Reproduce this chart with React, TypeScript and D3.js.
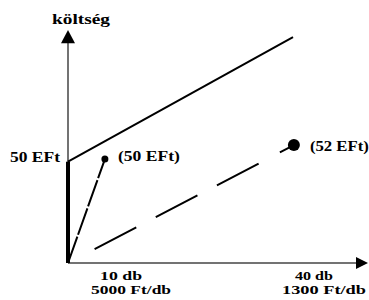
import React from 'react';
import * as d3 from 'd3';

// cost axis values (EFt, schematic) and quantity positions (schematic units)
const fixedCost = 50;
const totalCostLine = [[0, 50], [75, 111.5]];
const lineA = [[0, 0], [12.3, 51.3]];
const lineB = [[0, 0], [75.3, 58.2]];
const pointLabels = ['(50 EFt)', '(52 EFt)'];
const tickPos = [17.7, 82];
const tickQty = ['10 db', '40 db'];
const tickUnit = ['5000 Ft/db', '1300 Ft/db'];
const yTickLabel = '50 EFt';
const yTitle = 'költség';

const W = 369;
const H = 300;
const font = 'Liberation Serif';

const App: React.FC = () => {
  const x = d3.scaleLinear().domain([0, 100]).range([68, 368]);
  const y = d3.scaleLinear().domain([0, 116]).range([263, 28]);
  const line = d3.line<number[]>().x(d => x(d[0])).y(d => y(d[1]));

  const pA = lineA[1];
  const pB = lineB[1];

  const txt = { fontFamily: font, fontWeight: 700 } as React.CSSProperties;

  return (
    <svg width={W} height={H}
      style={{ position: 'absolute', left: 0, top: 0, background: '#fff' }}>
      {/* axes */}
      <line x1={x(0)} y1={y(0)} x2={x(0)} y2={y(113)} stroke="#444" strokeWidth={1.5} />
      <path d={`M${x(0) - 7},${y(108.5)} L${x(0)},${y(115)} L${x(0) + 7},${y(108.5)} Z`} fill="#000" />
      <line x1={x(0)} y1={y(0)} x2={x(96)} y2={y(0)} stroke="#444" strokeWidth={1.5} />
      <path d={`M${x(96)},${y(0) - 6} L${x(100)},${y(0)} L${x(96)},${y(0) + 6} Z`} fill="#000" />

      {/* fixed cost */}
      <line x1={x(0)} y1={y(0)} x2={x(0)} y2={y(fixedCost)} stroke="#000" strokeWidth={4} />
      {/* total cost */}
      <path d={line(totalCostLine) || ''} fill="none" stroke="#000" strokeWidth={2} />
      {/* option A */}
      <path d={line(lineA) || ''} fill="none" stroke="#000" strokeWidth={2} strokeDasharray="28 2" />
      <circle cx={x(pA[0])} cy={y(pA[1])} r={3.5} fill="#000" />
      {/* option B */}
      <path d={line(lineB) || ''} fill="none" stroke="#000" strokeWidth={2}
        strokeDasharray="0 30 47 22 47 22 47 24 40" />
      <circle cx={x(pB[0])} cy={y(pB[1])} r={6} fill="#000" />

      {/* labels */}
      <text style={txt} x={x(0) - 16} y={24} fontSize={15} textLength={58}
        lengthAdjust="spacingAndGlyphs">{yTitle}</text>
      <text style={txt} x={x(0) - 8} y={y(fixedCost)} textAnchor="end" fontSize={15} textLength={50}
        lengthAdjust="spacingAndGlyphs">{yTickLabel}</text>
      <text style={txt} x={x(pA[0]) + 13} y={y(pA[1]) + 2} fontSize={15} textLength={62}
        lengthAdjust="spacingAndGlyphs">{pointLabels[0]}</text>
      <text style={txt} x={x(pB[0]) + 16} y={y(pB[1]) + 6} fontSize={15} textLength={59}
        lengthAdjust="spacingAndGlyphs">{pointLabels[1]}</text>

      {tickPos.map((t, i) => (
        <g key={i}>
          <text style={txt} x={x(t)} y={280} textAnchor="middle" fontSize={12} textLength={i === 0 ? 42 : 38}
            lengthAdjust="spacingAndGlyphs">{tickQty[i]}</text>
          <text style={txt} x={x(t) + 10} y={294} textAnchor="middle" fontSize={12} textLength={i === 0 ? 80 : 84}
            lengthAdjust="spacingAndGlyphs">{tickUnit[i]}</text>
        </g>
      ))}
    </svg>
  );
};

export default App;
